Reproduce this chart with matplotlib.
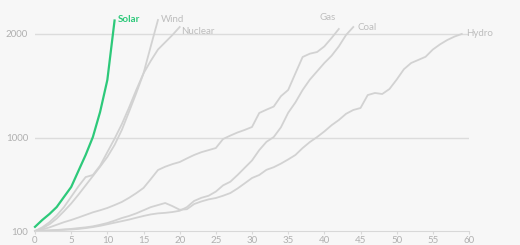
import matplotlib.pyplot as plt

# years since reaching 100 TWh -> generation (TWh)
solar = [140, 206, 264, 331, 428, 524, 679, 833, 1006, 1248, 1556, 2130]
wind = [100, 125, 165, 220, 290, 365, 450, 540, 630, 720, 814, 930, 1074, 1250,
        1430, 1620, 1880, 2135]
nuclear = [100, 135, 185, 250, 330, 430, 530, 620, 640, 730, 860, 990, 1130, 1290,
           1460, 1620, 1740, 1850, 1920, 1990, 2067]
gas = [100, 115, 135, 160, 185, 206, 230, 255, 280, 300, 322, 350, 380, 420, 465,
       515, 600, 688, 720, 745, 765, 800, 833, 860, 880, 900, 987, 1020, 1050, 1075,
       1103, 1238, 1270, 1300, 1400, 1460, 1620, 1778, 1810, 1826, 1880, 1961, 2048]
coal = [100, 102, 105, 108, 112, 115, 120, 128, 138, 150, 165, 180, 195, 210, 228,
        245, 260, 270, 275, 283, 295, 330, 390, 420, 440, 480, 540, 575, 640, 710,
        780, 880, 960, 1006, 1100, 1240, 1340, 1460, 1560, 1640, 1720, 1790, 1880,
        1990, 2067]
hydro = [100, 103, 106, 110, 115, 120, 128, 135, 145, 160, 177, 200, 225, 245, 270,
         300, 330, 350, 370, 340, 305, 310, 360, 385, 405, 418, 440, 466, 510, 560,
         611, 640, 690, 715, 750, 790, 833, 900, 958, 1006, 1060, 1120, 1170, 1230,
         1267, 1286, 1411, 1431, 1421, 1469, 1560, 1660, 1720, 1750, 1780, 1850, 1900,
         1942, 1975, 2000]

grey = '#d2d2d2'
green = '#2dc97a'
txt = '#bdbdbd'

plt.rcParams['font.family'] = ['Lato', 'DejaVu Sans']

fig = plt.figure(figsize=(5.2, 2.45), dpi=100, facecolor='#f7f7f7')
ax = fig.add_axes([35/520, 1 - 231/245, 434/520, 231/245])
ax.set_facecolor('#f7f7f7')

for v in [1000, 2000]:
    ax.axhline(v, color='#dcdcdc', lw=1, zorder=1)

series = [('Wind', wind, (2, 0), 'left', 'center'),
          ('Nuclear', nuclear, (1, -3), 'left', 'center'),
          ('Gas', gas, (-8, 8), 'center', 'center'),
          ('Coal', coal, (3, 0), 'left', 'center'),
          ('Hydro', hydro, (3, 0), 'left', 'center')]

for name, vals, off, ha, va in series:
    xs = list(range(len(vals)))
    ax.plot(xs, vals, color=grey, lw=1.3, clip_on=False, zorder=2)
    ax.annotate(name, (xs[-1], vals[-1]), xytext=off, textcoords='offset points',
                ha=ha, va=va, color=txt, fontsize=7, annotation_clip=False)

xs = list(range(len(solar)))
ax.plot(xs, solar, color=green, lw=1.6, clip_on=False, zorder=3)
ax.annotate('Solar', (xs[-1], solar[-1]), xytext=(2, 1), textcoords='offset points',
            ha='left', va='center', color=green, fontsize=7, fontweight='bold',
            annotation_clip=False)

ax.set_xlim(0, 60)
ax.set_ylim(100, 100 + 231/0.1037)
ax.set_xticks(range(0, 61, 5))
ax.set_yticks([100, 1000, 2000])

for s in ['top', 'right', 'left']:
    ax.spines[s].set_visible(False)
ax.spines['bottom'].set_color('#d8d8d8')
ax.tick_params(axis='x', length=2, color='#d8d8d8', labelcolor='#b0b0b0',
               labelsize=7, pad=1.5)
ax.tick_params(axis='y', length=0, labelcolor='#b0b0b0', labelsize=7, pad=5)

fig.savefig('out.png', dpi=100, facecolor=fig.get_facecolor())
